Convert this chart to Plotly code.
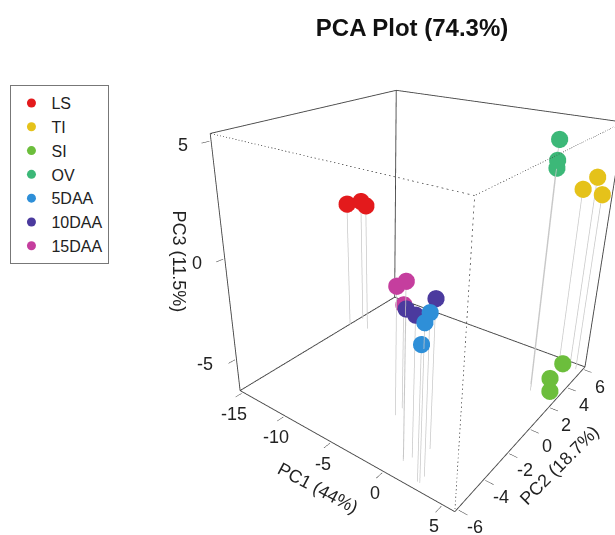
import plotly.graph_objects as go

# ---- data ----
groups = ["LS", "TI", "SI", "OV", "5DAA", "10DAA", "15DAA"]
colors = ["#E31A1C", "#E5C21A", "#6CBE3C", "#3CB878", "#2E8FD8", "#4B3A9E", "#C53E9E"]
sample_group = ["LS"] * 3 + ["TI"] * 3 + ["SI"] * 3 + ["OV"] * 3 + ["5DAA"] * 3 + ["10DAA"] * 3 + ["15DAA"] * 3
pc1 = [-15.2, -15.0, -13.4,   3.8, 4.7, 5.5,   4.7, 4.6, 5.2,   3.4, 3.8, 3.6,
       2.6, 2.7, 2.5,   1.3, 0.4, 0.8,   0.5, -3.1, -3.2]
pc2 = [1.9, 2.9, 2.2,   5.9, 6.1, 5.7,   5.0, 3.7, 3.0,   3.1, 2.6, 2.9,
       -5.4, -5.8, -5.8,   -3.9, -5.1, -4.8,   -5.2, -3.0, -2.4]
pc3 = [0.3, 0.2, 0.35,   2.25, 2.85, 2.25,   -6.2, -6.4, -6.6,   4.95, 4.25, 3.85,
       0.55, 0.35, -0.55,   0.25, 0.15, -0.15,   1.3, -0.35, -1.45]
x_range = [-15.3, 6.0]
y_range = [-6.2, 6.2]
z_range = [-6.7, 5.3]
x_ticks = [-15, -10, -5, 0, 5]
y_ticks = [-6, -4, -2, 0, 2, 4, 6]
z_ticks = [-5, 0, 5]
x_title = "PC1 (44%)"
y_title = "PC2 (18.7%)"
z_title = "PC3 (11.5%)"

FONT = "Liberation Sans, Arial, sans-serif"
fig = go.Figure()

def padded(r, f=0.004):
    s = r[1] - r[0]
    return [r[0] - f * s, r[1] + f * s]

x0, x1 = x_range
y0, y1 = y_range
z0, z1 = z_range

# drop lines (type = "h")
lx, ly, lz = [], [], []
for a, b, c in zip(pc1, pc2, pc3):
    lx += [a, a, None]
    ly += [b, b, None]
    lz += [c, z0, None]
fig.add_trace(go.Scatter3d(x=lx, y=ly, z=lz, mode="lines",
                           line=dict(color="#c8c8c8", width=1.5),
                           showlegend=False, hoverinfo="skip"))

# box edges
solid = [((x0, y0, z0), (x0, y0, z1)), ((x0, y0, z1), (x0, y1, z1)), ((x0, y1, z1), (x1, y1, z1)),
         ((x0, y1, z0), (x0, y1, z1)), ((x0, y0, z0), (x0, y1, z0)), ((x0, y1, z0), (x1, y1, z0)),
         ((x0, y0, z0), (x1, y0, z0)), ((x1, y0, z0), (x1, y1, z0)), ((x1, y1, z0), (x1, y1, z1))]
dotted = [((x1, y0, z1), (x0, y0, z1)), ((x1, y0, z1), (x1, y1, z1)), ((x1, y0, z1), (x1, y0, z0))]
for edges, dash in ((solid, "solid"), (dotted, "dot")):
    ex, ey, ez = [], [], []
    for p, q in edges:
        ex += [p[0], q[0], None]
        ey += [p[1], q[1], None]
        ez += [p[2], q[2], None]
    fig.add_trace(go.Scatter3d(x=ex, y=ey, z=ez, mode="lines",
                               line=dict(color="#454545", width=1.8 if dash == "solid" else 1.5, dash=dash),
                               showlegend=False, hoverinfo="skip"))

# points
for g, col in zip(groups, colors):
    idx = [i for i, s in enumerate(sample_group) if s == g]
    fig.add_trace(go.Scatter3d(x=[pc1[i] for i in idx], y=[pc2[i] for i in idx], z=[pc3[i] for i in idx],
                               mode="markers", name=g,
                               marker=dict(size=10, color=col, opacity=1, line=dict(width=0)),
                               showlegend=False))
# legend entries
for g, col in zip(groups, colors):
    fig.add_trace(go.Scatter3d(x=[None], y=[None], z=[None], mode="markers", name=g,
                               marker=dict(size=9, color=col), showlegend=True))

# tick labels and axis titles as horizontal / rotated scene annotations
tick_font = dict(family=FONT, size=18, color="#222222")
title_font = dict(family=FONT, size=18, color="#222222")
ann = []
for v in x_ticks:
    ann.append(dict(x=v, y=y0, z=z0, text=str(v), showarrow=False, xshift=-8, yshift=-22, font=tick_font))
for v in y_ticks:
    ann.append(dict(x=x1, y=v, z=z0, text=str(v), showarrow=False, xshift=17, yshift=-18, font=tick_font))
for v in z_ticks:
    ann.append(dict(x=x0, y=y0, z=v, text=str(v), showarrow=False, xanchor="right", xshift=-21, yshift=-4,
                    font=tick_font))
ann.append(dict(x=-5, y=y0, z=z0, text=x_title, showarrow=False, textangle=28, xshift=-13, yshift=-46,
                font=title_font))
ann.append(dict(x=x1, y=0, z=z0, text=y_title, showarrow=False, textangle=-45, xshift=30, yshift=-37,
                font=title_font))
ann.append(dict(x=x0, y=y0, z=0, text=z_title, showarrow=False, textangle=90, xshift=-46, yshift=-2,
                font=title_font))

axis_common = dict(showgrid=False, zeroline=False, showbackground=False, showspikes=False,
                   ticks="outside", ticklen=7, tickcolor="#333333", showline=False,
                   showticklabels=False, title=dict(text=""))
fig.update_layout(
    width=615, height=535, margin=dict(l=0, r=0, t=0, b=0),
    paper_bgcolor="white",
    font=dict(family=FONT, color="#222222"),
    title=dict(text="<b>PCA Plot (74.3%)</b>", x=0.67, xanchor="center", y=0.948, yanchor="middle",
               font=dict(family=FONT, size=24, color="#111111")),
    legend=dict(x=0.017, y=0.841, xanchor="left", yanchor="top", bordercolor="#777777", borderwidth=1,
                font=dict(family=FONT, size=16, color="#222222"), bgcolor="white"),
    scene=dict(
        domain=dict(x=[0.25, 1.0], y=[0.0, 1.0]),
        xaxis=dict(range=padded(x_range), tickvals=x_ticks, **axis_common),
        yaxis=dict(range=padded(y_range), tickvals=y_ticks, **axis_common),
        zaxis=dict(range=padded(z_range), tickvals=z_ticks, **axis_common),
        aspectmode="manual", aspectratio=dict(x=1.048, y=1.048, z=1.069),
        camera=dict(eye=dict(x=1.2925, y=-1.86, z=1.056), center=dict(x=-0.110, y=-0.0848, z=-0.014),
                    up=dict(x=0, y=0, z=1), projection=dict(type="perspective")),
        annotations=ann,
        bgcolor="white",
    ),
)
fig.write_html("out.html")
